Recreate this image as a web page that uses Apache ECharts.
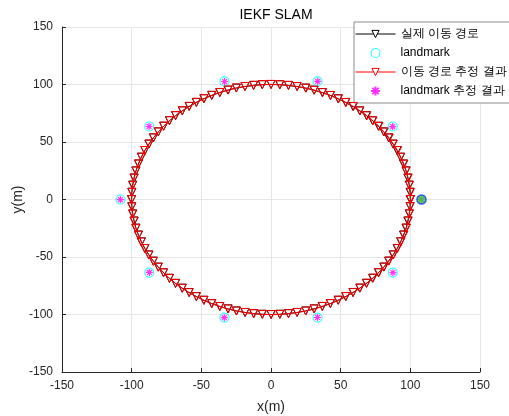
<!DOCTYPE html>
<html>
<head>
<meta charset="utf-8">
<script src="https://cdn.jsdelivr.net/npm/echarts@6/dist/echarts.min.js"></script>
<style>
  html, body { margin: 0; padding: 0; background: #fff; }
  #chart { width: 509px; height: 416px; }
</style>
</head>
<body>
<div id="chart"></div>
<script>
// true path (m)
const pathX = [100.0, 99.8, 99.2, 98.2, 96.9, 95.1, 93.0, 90.5, 87.6, 84.4, 80.9, 77.1, 72.9, 68.5, 63.7, 58.8, 53.6, 48.2, 42.6, 36.8, 30.9, 24.9, 18.7, 12.5, 6.3,
  0.0, -6.3, -12.5, -18.7, -24.9, -30.9, -36.8, -42.6, -48.2, -53.6, -58.8, -63.7, -68.5, -72.9, -77.1, -80.9, -84.4, -87.6, -90.5, -93.0, -95.1, -96.9, -98.2, -99.2, -99.8,
  -100.0, -99.8, -99.2, -98.2, -96.9, -95.1, -93.0, -90.5, -87.6, -84.4, -80.9, -77.1, -72.9, -68.5, -63.7, -58.8, -53.6, -48.2, -42.6, -36.8, -30.9, -24.9, -18.7, -12.5, -6.3,
  0.0, 6.3, 12.5, 18.7, 24.9, 30.9, 36.8, 42.6, 48.2, 53.6, 58.8, 63.7, 68.5, 72.9, 77.1, 80.9, 84.4, 87.6, 90.5, 93.0, 95.1, 96.9, 98.2, 99.2, 99.8, 100.0];
const pathY = [0.0, 6.3, 12.5, 18.7, 24.9, 30.9, 36.8, 42.6, 48.2, 53.6, 58.8, 63.7, 68.5, 72.9, 77.1, 80.9, 84.4, 87.6, 90.5, 93.0, 95.1, 96.9, 98.2, 99.2, 99.8,
  100.0, 99.8, 99.2, 98.2, 96.9, 95.1, 93.0, 90.5, 87.6, 84.4, 80.9, 77.1, 72.9, 68.5, 63.7, 58.8, 53.6, 48.2, 42.6, 36.8, 30.9, 24.9, 18.7, 12.5, 6.3,
  0.0, -6.3, -12.5, -18.7, -24.9, -30.9, -36.8, -42.6, -48.2, -53.6, -58.8, -63.7, -68.5, -72.9, -77.1, -80.9, -84.4, -87.6, -90.5, -93.0, -95.1, -96.9, -98.2, -99.2, -99.8,
  -100.0, -99.8, -99.2, -98.2, -96.9, -95.1, -93.0, -90.5, -87.6, -84.4, -80.9, -77.1, -72.9, -68.5, -63.7, -58.8, -53.6, -48.2, -42.6, -36.8, -30.9, -24.9, -18.7, -12.5, -6.3, 0.0];

// estimated path (m)
const estX = [100.0, 100.1, 99.4, 98.5, 97.0, 95.4, 93.1, 90.9, 87.8, 84.9, 81.2, 77.5, 73.2, 68.9, 63.9, 59.2, 53.8, 48.5, 42.8, 37.1, 31.0, 25.1, 18.8, 12.6, 6.4,
  0.1, -6.2, -12.4, -18.6, -24.8, -30.7, -36.7, -42.4, -48.0, -53.5, -58.6, -63.6, -68.4, -72.8, -77.0, -80.9, -84.4, -87.6, -90.6, -93.1, -95.2, -97.0, -98.4, -99.4, -100.0,
  -100.2, -100.0, -99.4, -98.4, -97.1, -95.2, -93.1, -90.6, -87.7, -84.5, -80.9, -77.1, -72.9, -68.5, -63.7, -58.7, -53.5, -48.1, -42.4, -36.6, -30.7, -24.7, -18.5, -12.3, -6.1,
  0.2, 6.4, 12.6, 18.8, 25.0, 31.0, 36.9, 42.7, 48.3, 53.8, 59.0, 63.9, 68.7, 73.2, 77.4, 81.2, 84.7, 87.9, 90.8, 93.3, 95.4, 97.2, 98.5, 99.4, 99.9, 100.1];
const estY = [0.0, 6.2, 12.4, 18.6, 24.8, 30.8, 36.7, 42.5, 48.1, 53.5, 58.7, 63.6, 68.4, 72.8, 77.0, 80.8, 84.3, 87.5, 90.4, 92.9, 95.0, 96.8, 98.2, 99.2, 99.8,
  100.1, 99.9, 99.3, 98.3, 97.0, 95.2, 93.1, 90.6, 87.7, 84.5, 81.0, 77.2, 73.0, 68.6, 63.8, 58.8, 53.6, 48.2, 42.6, 36.8, 30.9, 24.8, 18.6, 12.4, 6.2,
  -0.1, -6.4, -12.6, -18.8, -25.0, -31.0, -36.9, -42.7, -48.3, -53.7, -58.9, -63.8, -68.6, -73.0, -77.2, -81.0, -84.5, -87.7, -90.6, -93.1, -95.2, -97.0, -98.3, -99.3, -99.9,
  -100.1, -99.9, -99.3, -98.3, -97.0, -95.2, -93.0, -90.5, -87.6, -84.4, -80.8, -77.0, -72.8, -68.4, -63.6, -58.7, -53.5, -48.1, -42.5, -36.7, -30.8, -24.8, -18.6, -12.4, -6.2, 0.0];

// landmarks (m)
const lmX = [108.0, 87.4, 33.4, -33.4, -87.4, -108.0, -87.4, -33.4, 33.4, 87.4];
const lmY = [0.0, 63.5, 102.7, 102.7, 63.5, 0.0, -63.5, -102.7, -102.7, -63.5];
const lmEstX = [108.0, 87.3, 33.5, -33.3, -87.5, -108.1, -87.3, -33.5, 33.3, 87.5];
const lmEstY = [0.1, 63.4, 102.8, 102.6, 63.5, -0.1, -63.4, -102.8, -102.6, -63.6];
// currently observed landmark
const curX = [108.0];
const curY = [0.0];

const ticks = [-150, -100, -50, 0, 50, 100, 150];
const names = ["실제 이동 경로", "landmark", "이동 경로 추정 결과", "landmark 추정 결과"];

const zip = (xs, ys) => xs.map((x, i) => [x, ys[i]]);

const asterisk = "path://M10,0 L10,20 M0,10 L20,10 M3,3 L17,17 M17,3 L3,17";
const font = "Liberation Sans, Arial, sans-serif";

const chart = echarts.init(document.getElementById("chart"));

const axisCommon = {
  type: "value",
  min: ticks[0],
  max: ticks[ticks.length - 1],
  interval: 50,
  nameLocation: "middle",
  nameMoveOverlap: false,
  nameTextStyle: { fontFamily: font, fontSize: 14, color: "#262626" },
  axisLine: { show: true, onZero: false, lineStyle: { color: "#262626", width: 1 } },
  axisTick: { show: true, inside: true, length: 4, lineStyle: { color: "#262626" } },
  axisLabel: { fontFamily: font, fontSize: 12, color: "#262626" },
  splitLine: { show: true, lineStyle: { color: "#e6e6e6", width: 1 } },
};

const option = {
  animation: false,
  backgroundColor: "#fff",
  title: {
    text: "IEKF SLAM",
    left: 271,
    top: 3,
    textAlign: "center",
    textStyle: { fontFamily: font, fontSize: 14, fontWeight: "normal", color: "#000" },
  },
  grid: { left: 62, right: 29, top: 27, bottom: 44, outerBoundsMode: "none", containLabel: false },
  xAxis: Object.assign({}, axisCommon, {
    name: "x(m)",
    nameGap: 28,
    axisLabel: Object.assign({}, axisCommon.axisLabel, { margin: 8 }),
  }),
  yAxis: Object.assign({}, axisCommon, {
    name: "y(m)",
    nameGap: 37,
    axisLabel: Object.assign({}, axisCommon.axisLabel, { margin: 9 }),
  }),
  legend: {
    data: [
      { name: names[0], itemStyle: { color: "#fff", borderColor: "#000", borderWidth: 1 } },
      { name: names[1], itemStyle: { color: "#fff", borderColor: "#00ffff", borderWidth: 1.2 } },
      { name: names[2], itemStyle: { color: "#fff", borderColor: "#ff0000", borderWidth: 1 } },
      { name: names[3] },
    ],
    orient: "vertical",
    left: 354,
    top: 22,
    padding: [6, 20, 6, 1],
    itemGap: 7,
    itemWidth: 40,
    itemHeight: 9,
    lineStyle: { width: 1 },
    backgroundColor: "#fff",
    borderColor: "#8c8c8c",
    borderWidth: 1,
    borderRadius: 0,
    textStyle: { fontFamily: font, fontSize: 12, color: "#000" },
  },
  series: [
    {
      name: names[0],
      type: "line",
      data: zip(pathX, pathY),
      symbol: "triangle",
      symbolRotate: 180,
      symbolSize: 8,
      lineStyle: { color: "#000", width: 1 },
      itemStyle: { color: "rgba(0,0,0,0)", borderColor: "#000", borderWidth: 1 },
      z: 2,
    },
    {
      name: names[1],
      type: "scatter",
      data: zip(lmX, lmY),
      symbol: "circle",
      symbolSize: 9,
      itemStyle: { color: "rgba(0,0,0,0)", borderColor: "#00ffff", borderWidth: 1.2 },
      z: 3,
    },
    {
      name: names[2],
      type: "line",
      data: zip(estX, estY),
      symbol: "triangle",
      symbolRotate: 180,
      symbolSize: 8,
      lineStyle: { color: "#ff0000", width: 1 },
      itemStyle: { color: "rgba(0,0,0,0)", borderColor: "#ff0000", borderWidth: 1 },
      z: 4,
    },
    {
      name: names[3],
      type: "scatter",
      data: zip(lmEstX, lmEstY),
      symbol: asterisk,
      symbolSize: 7,
      itemStyle: { color: "rgba(0,0,0,0)", borderColor: "#ff00ff", borderWidth: 1.2 },
      z: 5,
    },
    {
      name: "current",
      type: "scatter",
      data: zip(curX, curY),
      symbol: "circle",
      symbolSize: 9,
      itemStyle: { color: "#33cc33", borderColor: "#3333ff", borderWidth: 1.5 },
      z: 6,
    },
  ],
};

chart.setOption(option);
</script>
</body>
</html>
